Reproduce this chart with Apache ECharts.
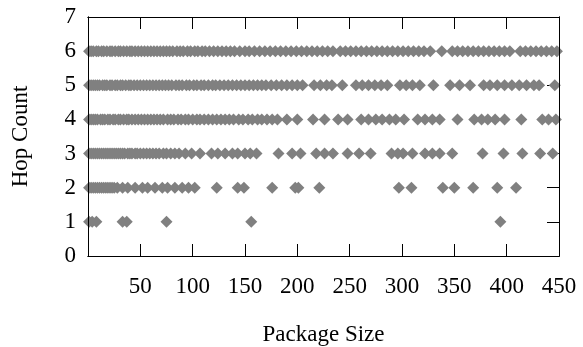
<!DOCTYPE html>
<html>
<head>
<meta charset="utf-8">
<script src="https://cdn.jsdelivr.net/npm/echarts@6/dist/echarts.min.js"></script>
<style>html,body{margin:0;padding:0;background:#fff}#c{width:583px;height:347px}</style>
</head>
<body>
<div id="c"></div>
<script>
var hop1 = [1, 4, 8, 33, 37, 75, 156, 394];
var hop2 = [1, 3, 5, 7, 9, 11, 13, 15, 17, 19, 21, 23, 25, 28, 33, 38, 45, 52, 57, 64, 71, 76, 83, 90, 96, 102, 123, 143, 149, 176, 198, 201, 221, 297, 309, 339, 350, 368, 391, 409];
var hop3 = [1, 3, 5, 7, 9, 11, 13, 15, 17, 19, 21, 23, 25, 27, 29, 31, 33, 35, 38, 40, 42, 45, 47, 50, 53, 56, 59, 62, 65, 68, 72, 75, 79, 83, 87, 93, 99, 107, 118, 124, 131, 138, 143, 150, 155, 161, 182, 195, 203, 218, 226, 234, 248, 259, 270, 290, 296, 301, 310, 322, 329, 336, 348, 377, 397, 415, 432, 444];
var hop4 = [1, 3, 5, 7, 9, 12, 14, 16, 19, 21, 24, 26, 29, 31, 34, 37, 39, 42, 45, 48, 51, 54, 57, 60, 63, 66, 69, 72, 76, 79, 82, 86, 89, 93, 96, 100, 104, 107, 111, 115, 119, 123, 127, 131, 135, 139, 144, 148, 153, 157, 162, 166, 171, 176, 181, 190, 200, 215, 226, 239, 248, 261, 268, 275, 281, 288, 294, 302, 315, 322, 329, 336, 353, 369, 376, 382, 389, 398, 414, 434, 440, 447];
var hop5 = [1, 3, 5, 7, 9, 11, 14, 16, 18, 21, 23, 26, 28, 31, 33, 36, 39, 41, 44, 47, 50, 53, 56, 59, 62, 65, 68, 71, 74, 77, 80, 84, 87, 90, 94, 97, 101, 104, 108, 111, 115, 119, 122, 126, 130, 134, 138, 142, 146, 150, 154, 158, 162, 166, 170, 175, 180, 185, 190, 195, 200, 205, 216, 222, 228, 233, 243, 256, 262, 268, 274, 280, 286, 298, 304, 310, 317, 330, 346, 355, 365, 378, 384, 391, 398, 405, 412, 419, 426, 431, 446];
var hop6 = [1, 3, 5, 8, 10, 13, 15, 18, 21, 23, 26, 29, 31, 34, 37, 40, 42, 45, 48, 51, 54, 57, 60, 63, 66, 69, 72, 75, 78, 81, 85, 88, 91, 95, 98, 102, 105, 109, 112, 116, 120, 124, 128, 132, 136, 140, 145, 150, 154, 159, 164, 169, 174, 179, 184, 189, 194, 199, 204, 209, 214, 219, 224, 229, 234, 241, 246, 251, 256, 261, 266, 271, 276, 281, 286, 291, 296, 301, 306, 311, 316, 321, 327, 338, 348, 353, 358, 363, 368, 373, 378, 383, 388, 393, 398, 403, 413, 418, 423, 428, 433, 438, 443, 448];
var hopRows = [hop1, hop2, hop3, hop4, hop5, hop6];
var xTicks = [0, 50, 100, 150, 200, 250, 300, 350, 400, 450];
var yTicks = [0, 1, 2, 3, 4, 5, 6, 7];

var points = [];
hopRows.forEach(function (row, i) {
  row.forEach(function (x) { points.push([x, i + 1]); });
});

var font = 'Liberation Serif';
var xMin = xTicks[0], xMax = xTicks[xTicks.length - 1];
var yMin = yTicks[0], yMax = yTicks[yTicks.length - 1];
var lineStyle = { color: '#000', width: 1 };
var axisLine = { show: true, onZero: false, lineStyle: lineStyle };
var tick = { show: true, inside: true, length: 12, lineStyle: lineStyle };
var noTick = { show: false };
var noLabel = { show: false };
var noSplit = { show: false };

function xAx(grid, pos, ticks, z, extra) {
  var a = { type: 'value', gridIndex: grid, position: pos, min: xMin, max: xMax, interval: 50, z: z,
    axisLine: axisLine, axisTick: ticks ? tick : noTick, splitLine: noSplit, axisLabel: noLabel };
  for (var k in extra) a[k] = extra[k];
  return a;
}
function yAx(grid, pos, ticks, z, extra) {
  var a = { type: 'value', gridIndex: grid, position: pos, min: yMin, max: yMax, interval: 1, z: z,
    axisLine: axisLine, axisTick: ticks ? tick : noTick, splitLine: noSplit, axisLabel: noLabel };
  for (var k in extra) a[k] = extra[k];
  return a;
}
var gridRect = { left: 88, right: 24, top: 17, bottom: 91, containLabel: false, outerBoundsMode: 'none' };

var chart = echarts.init(document.getElementById('c'), null, { renderer: 'canvas' });
chart.setOption({
  animation: false,
  backgroundColor: '#fff',
  grid: [gridRect, gridRect],
  xAxis: [
    xAx(0, 'bottom', true, 0, {
      axisLabel: { show: true, margin: 19, color: '#000', fontFamily: font, fontSize: 23, showMinLabel: false },
      name: 'Package Size', nameLocation: 'middle', nameGap: 67,
      nameTextStyle: { color: '#000', fontFamily: font, fontSize: 23 }
    }),
    xAx(0, 'top', true, 0, {}),
    xAx(1, 'bottom', false, 10, {}),
    xAx(1, 'top', false, 10, {})
  ],
  yAxis: [
    yAx(0, 'left', false, 0, {
      axisLabel: { show: true, margin: 12, color: '#000', fontFamily: font, fontSize: 23 },
      name: 'Hop Count', nameLocation: 'middle', nameGap: 56,
      nameTextStyle: { color: '#000', fontFamily: font, fontSize: 23 }
    }),
    yAx(0, 'right', true, 0, {}),
    yAx(1, 'left', false, 10, {}),
    yAx(1, 'right', false, 10, {})
  ],
  series: [{
    type: 'scatter', xAxisIndex: 0, yAxisIndex: 0, z: 5,
    symbol: 'diamond', symbolSize: 12,
    itemStyle: { color: '#808080', opacity: 1, borderWidth: 0 },
    clip: false,
    data: points
  }]
});
</script>
</body>
</html>
